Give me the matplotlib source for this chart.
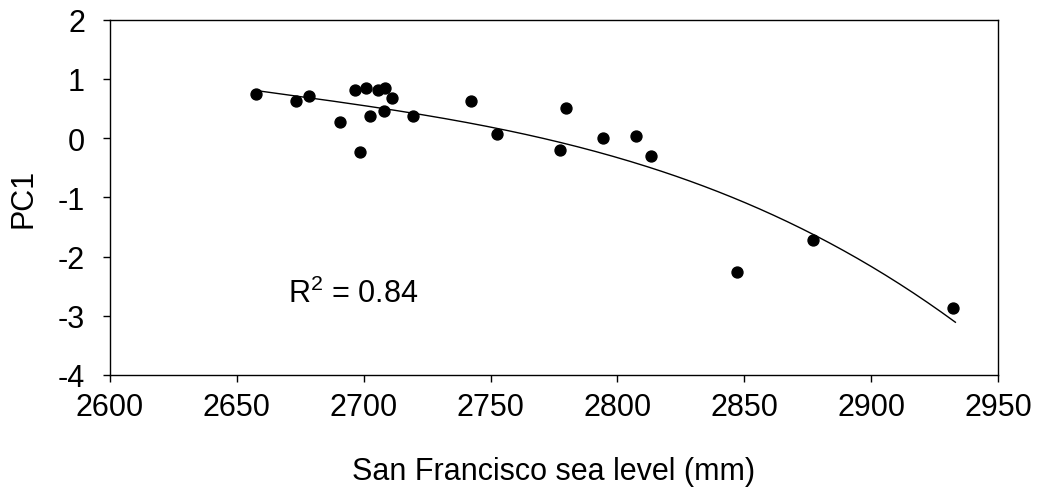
import numpy as np
import matplotlib
matplotlib.use("Agg")
import matplotlib.pyplot as plt

# sea level (mm) and PC1 scores
sea_level = [2657.4, 2673.5, 2678.6, 2690.7, 2696.5, 2700.9, 2698.6, 2702.4,
             2705.8, 2708.2, 2707.8, 2711.3, 2719.6, 2742.1, 2752.5, 2777.2,
             2779.8, 2794.4, 2807.5, 2813.1, 2847.0, 2877.1, 2932.4]
pc1 = [0.745, 0.627, 0.711, 0.267, 0.81, 0.84, -0.23, 0.38,
       0.82, 0.84, 0.46, 0.68, 0.37, 0.63, 0.07, -0.196,
       0.51, 0.007, 0.03, -0.307, -2.257, -1.72, -2.875]

# points
curve_x = [2659.1, 2707.6, 2753.8, 2803.1, 2850.4, 2878.6, 2907.5, 2933.2]
curve_y = [0.784, 0.531, 0.137, -0.381, -1.087, -1.664, -2.333, -3.127]

x_ticks = [2600, 2650, 2700, 2750, 2800, 2850, 2900, 2950]
y_ticks = [-4, -3, -2, -1, 0, 1, 2]
r2_label = r"R$^{\mathregular{2}}$ = 0.84"

plt.rcParams['font.family'] = ['Liberation Sans', 'DejaVu Sans']
plt.rcParams['mathtext.fontset'] = 'custom'
plt.rcParams['mathtext.rm'] = 'Liberation Sans'
plt.rcParams['axes.unicode_minus'] = False

fig = plt.figure(figsize=(10.37, 4.89), dpi=100)
ax = fig.add_axes([110 / 1037, 1 - 376 / 489, 888 / 1037, 355.3 / 489])

# smooth cubic through the read curve points
coef = np.polyfit(curve_x, curve_y, 3)
xs = np.linspace(curve_x[0], curve_x[-1], 200)
ax.plot(xs, np.polyval(coef, xs), color='black', lw=1.0)

ax.scatter(sea_level, pc1, s=62, color='black', zorder=3)

ax.text(2670, -2.77, r2_label, fontsize=22)

ax.set_xlim(2600, 2950)
ax.set_ylim(-4, 2)
ax.set_xticks(x_ticks)
ax.set_yticks(y_ticks)
ax.tick_params(labelsize=22, length=5, width=1, direction='out',
               top=False, right=False)
ax.tick_params(axis='x', pad=7)
ax.tick_params(axis='y', pad=13)
ax.set_xlabel("San Francisco sea level (mm)", fontsize=22, labelpad=25)
ax.set_ylabel("PC1", fontsize=22, labelpad=14)
for sp in ax.spines.values():
    sp.set_linewidth(1.0)

fig.savefig("out.png", dpi=100)
